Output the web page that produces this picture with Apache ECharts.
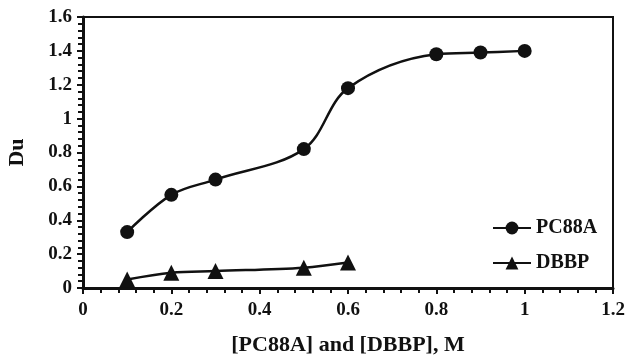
<!DOCTYPE html>
<html>
<head>
<meta charset="utf-8">
<script src="https://cdn.jsdelivr.net/npm/echarts@6/dist/echarts.min.js"></script>
<style>
  html, body { margin: 0; padding: 0; background: #fff; }
  #chart { width: 625px; height: 359px; }
</style>
</head>
<body>
<div id="chart"></div>
<script>
// data
const pc88aX = [0.1, 0.2, 0.3, 0.5, 0.6, 0.8, 0.9, 1.0];
const pc88aY = [0.33, 0.55, 0.64, 0.82, 1.18, 1.38, 1.39, 1.40];
const dbbpX = [0.1, 0.2, 0.3, 0.5, 0.6];
const dbbpY = [0.05, 0.09, 0.10, 0.12, 0.15];

const pair = (xs, ys) => xs.map((x, i) => [x, ys[i]]);
const font = 'Liberation Serif';

let myChart = echarts.init(document.getElementById('chart'));
let option = {
  backgroundColor: '#fff',
  animation: false,
  grid: {
    left: 83, right: 12, top: 17, bottom: 71,
    outerBoundsMode: 'none',
    show: true, borderColor: '#111', borderWidth: 2
  },
  legend: {
    orient: 'vertical',
    left: 487, top: 213,
    itemWidth: 38, itemHeight: 16, itemGap: 15,
    textStyle: { fontFamily: font, fontWeight: 'bold', fontSize: 20, color: '#111' },
    data: ['PC88A', 'DBBP']
  },
  xAxis: {
    type: 'value', min: 0, max: 1.2, interval: 0.2,
    name: '[PC88A] and [DBBP], M',
    nameLocation: 'middle', nameGap: 46,
    nameTextStyle: { fontFamily: font, fontWeight: 'bold', fontSize: 22, color: '#111' },
    axisLine: { lineStyle: { color: '#111', width: 3 } },
    axisTick: { show: true, length: 6, lineStyle: { color: '#111', width: 2 } },
    minorTick: { show: true, splitNumber: 5, length: 5, lineStyle: { color: '#111', width: 2 } },
    splitLine: { show: false },
    axisLabel: { fontFamily: font, fontWeight: 'bold', fontSize: 19, color: '#111', margin: 13 }
  },
  yAxis: {
    type: 'value', min: 0, max: 1.6, interval: 0.2,
    name: 'Du',
    nameLocation: 'middle', nameGap: 55,
    nameTextStyle: { fontFamily: font, fontWeight: 'bold', fontSize: 22, color: '#111' },
    axisLine: { lineStyle: { color: '#111', width: 3 } },
    axisTick: { show: true, length: 6, lineStyle: { color: '#111', width: 2 } },
    minorTick: { show: true, splitNumber: 5, length: 5, lineStyle: { color: '#111', width: 2 } },
    splitLine: { show: false },
    axisLabel: { fontFamily: font, fontWeight: 'bold', fontSize: 19, color: '#111', margin: 11 }
  },
  series: [
    {
      name: 'PC88A', type: 'line', smooth: 0.35,
      data: pair(pc88aX, pc88aY),
      symbol: 'circle', symbolSize: 14,
      itemStyle: { color: '#111' },
      lineStyle: { color: '#111', width: 2.5 }
    },
    {
      name: 'DBBP', type: 'line', smooth: 0.35,
      data: pair(dbbpX, dbbpY),
      symbol: 'triangle', symbolSize: 16,
      itemStyle: { color: '#111' },
      lineStyle: { color: '#111', width: 2.5 }
    }
  ]
};
option && myChart.setOption(option);
</script>
</body>
</html>
